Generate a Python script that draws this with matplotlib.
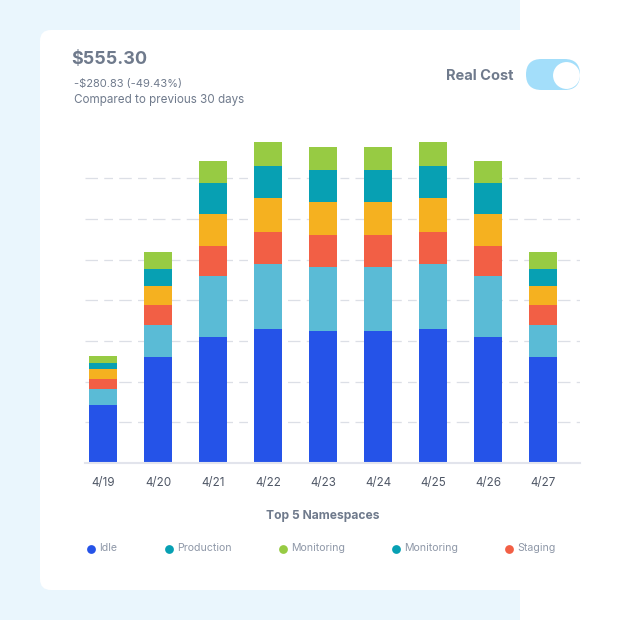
import matplotlib
matplotlib.use('Agg')
import matplotlib.pyplot as plt
from matplotlib.patches import FancyBboxPatch, Rectangle
import numpy as np

plt.rcParams['font.family'] = ['Inter', 'DejaVu Sans']

days = ['4/19', '4/20', '4/21', '4/22', '4/23', '4/24', '4/25', '4/26', '4/27']

# stack heights, bottom to top
idle = [58, 106, 126, 134, 132, 132, 134, 126, 106]
prod_light = [16, 32, 61, 65, 64, 64, 65, 61, 32]
staging = [10, 20, 30, 32, 32, 32, 32, 30, 20]
orange = [10, 19, 32, 34, 33, 33, 34, 32, 19]
monitoring = [6, 17, 31, 32, 32, 32, 32, 31, 17]
green = [7, 17, 22, 24, 23, 23, 24, 22, 17]

series = [idle, prod_light, staging, orange, monitoring, green]
colors = ['#2553E8', '#5ABBD6', '#F25F45', '#F5B120', '#07A0B3', '#97CB43']

grid_values = [40.7, 81.4, 122.1, 162.8, 203.5, 244.2, 284.9]

legend_names = ['Idle', 'Production', 'Monitoring', 'Monitoring', 'Staging']
legend_colors = ['#2553E8', '#07A0B3', '#97CB43', '#07A0B3', '#F25F45']
legend_x = [91, 169, 283, 396, 509]

text_dark = '#6F7A8C'
text_light = '#8F98A8'

fig = plt.figure(figsize=(6.2, 6.2), dpi=100)

# background panel and card, in pixel coordinates
bg = fig.add_axes([0, 0, 1, 1])
bg.set_xlim(0, 620)
bg.set_ylim(620, 0)
bg.axis('off')
bg.add_patch(Rectangle((0, 0), 520, 620, color='#EAF6FD', lw=0))
bg.add_patch(FancyBboxPatch((40, 30), 560, 560, boxstyle='round,pad=0,rounding_size=11',
                            fc='white', ec='none'))

bg.text(71, 59, '$555.30', fontsize=13, fontweight='bold', color=text_dark, va='center')
bg.text(74, 83.5, '-$280.83 (-49.43%)', fontsize=8, color=text_dark, va='center')
bg.text(74, 100.5, 'Compared to previous 30 days', fontsize=8.4, color=text_dark, va='center')
bg.text(514, 75.5, 'Real Cost', fontsize=10.5, fontweight='bold', color=text_dark, va='center', ha='right')

# toggle
bg.add_patch(FancyBboxPatch((526, 59), 54, 31, boxstyle='round,pad=0,rounding_size=15.5',
                            fc='#A3DEFA', ec='none'))
bg.scatter([565.5], [74.5], s=375, c='white', zorder=3, linewidths=0)

bg.text(323, 515.5, 'Top 5 Namespaces', fontsize=8.7, fontweight='bold', color=text_dark,
        va='center', ha='center')

for name, col, lx in zip(legend_names, legend_colors, legend_x):
    bg.scatter([lx], [548.5], s=40, c=col, linewidths=0)
    bg.text(lx + 8, 548, name, fontsize=7.6, color=text_light, va='center')

# chart, one x unit = 55 px
ax = fig.add_axes([85 / 620, 1 - 463 / 620, 495 / 620, 333 / 620])
ax.patch.set_alpha(0)
x = np.arange(len(days))
bottom = np.zeros(len(days))
for vals, col in zip(series, colors):
    ax.bar(x, vals, width=28 / 55, bottom=bottom, color=col, linewidth=0)
    bottom += np.array(vals)

ax.set_xlim(-18 / 55, 8 + 37 / 55)
ax.set_ylim(0, 333)
ax.set_xticks(x)
ax.set_xticklabels(days, fontsize=8.4, color='#4F5766')
ax.tick_params(axis='x', length=0, pad=10)
ax.set_yticks(grid_values)
ax.tick_params(axis='y', length=0, labelleft=False)
ax.set_axisbelow(True)
ax.grid(axis='y', color='#DCDFE6', lw=0.9, linestyle=(0, (10, 5, 7, 5)))
for s in ['top', 'right', 'left']:
    ax.spines[s].set_visible(False)
ax.spines['bottom'].set_color('#E2E4EC')
ax.spines['bottom'].set_linewidth(1.5)

fig.savefig('out.png', dpi=100)
